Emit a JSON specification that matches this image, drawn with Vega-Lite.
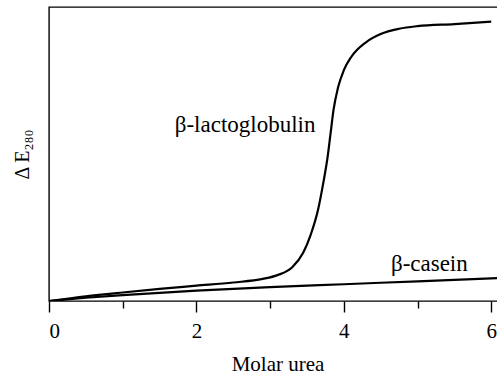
{
  "$schema": "https://vega.github.io/schema/vega-lite/v6.json",
  "autosize": "none",
  "padding": {"left": 49, "top": 7, "right": 0, "bottom": 76},
  "width": 457,
  "height": 294,
  "config": {
    "view": {"stroke": "black", "strokeWidth": 1.4},
    "font": "Liberation Serif",
    "text": {"font": "Liberation Serif"}
  },
  "datasets": {
    "curves": [
      {"protein": "lacto", "urea": 0, "dE": 0},
      {"protein": "lacto", "urea": 0.5, "dE": 0.016},
      {"protein": "lacto", "urea": 1, "dE": 0.029},
      {"protein": "lacto", "urea": 1.5, "dE": 0.041},
      {"protein": "lacto", "urea": 2, "dE": 0.052},
      {"protein": "lacto", "urea": 2.5, "dE": 0.063},
      {"protein": "lacto", "urea": 2.9, "dE": 0.075},
      {"protein": "lacto", "urea": 3.1, "dE": 0.088},
      {"protein": "lacto", "urea": 3.3, "dE": 0.115},
      {"protein": "lacto", "urea": 3.45, "dE": 0.165},
      {"protein": "lacto", "urea": 3.55, "dE": 0.225},
      {"protein": "lacto", "urea": 3.65, "dE": 0.31},
      {"protein": "lacto", "urea": 3.72, "dE": 0.40},
      {"protein": "lacto", "urea": 3.78, "dE": 0.49},
      {"protein": "lacto", "urea": 3.82, "dE": 0.57},
      {"protein": "lacto", "urea": 3.86, "dE": 0.65},
      {"protein": "lacto", "urea": 3.92, "dE": 0.725},
      {"protein": "lacto", "urea": 4.0, "dE": 0.785},
      {"protein": "lacto", "urea": 4.1, "dE": 0.83},
      {"protein": "lacto", "urea": 4.3, "dE": 0.88},
      {"protein": "lacto", "urea": 4.5, "dE": 0.908},
      {"protein": "lacto", "urea": 4.75, "dE": 0.926},
      {"protein": "lacto", "urea": 5.0, "dE": 0.935},
      {"protein": "lacto", "urea": 5.5, "dE": 0.942},
      {"protein": "lacto", "urea": 6.0, "dE": 0.95},
      {"protein": "casein", "urea": 0, "dE": 0},
      {"protein": "casein", "urea": 0.5, "dE": 0.011},
      {"protein": "casein", "urea": 1, "dE": 0.02},
      {"protein": "casein", "urea": 2, "dE": 0.035},
      {"protein": "casein", "urea": 3, "dE": 0.047},
      {"protein": "casein", "urea": 4, "dE": 0.057},
      {"protein": "casein", "urea": 5, "dE": 0.067},
      {"protein": "casein", "urea": 6, "dE": 0.077},
      {"protein": "casein", "urea": 6.2, "dE": 0.079}
    ],
    "labels": [
      {"name": "β-lactoglobulin", "urea": 2.66, "dE": 0.6},
      {"name": "β-casein", "urea": 5.16, "dE": 0.125}
    ]
  },
  "layer": [
    {
      "data": {"name": "curves"},
      "mark": {"type": "line", "interpolate": "monotone", "color": "black", "strokeWidth": 2.2, "clip": true},
      "encoding": {
        "x": {
          "field": "urea", "type": "quantitative",
          "scale": {"domain": [0, 6.2], "nice": false, "zero": false},
          "axis": {
            "title": "Molar urea",
            "values": [0, 1, 2, 3, 4, 5, 6],
            "format": "d",
            "labelExpr": "datum.value % 2 === 0 ? datum.label : ''",
            "grid": false,
            "domain": false,
            "tickColor": "black",
            "tickWidth": 1.4,
            "tickSize": {"condition": {"test": "datum.value % 2 === 1", "value": 7}, "value": 11},
            "labelFont": "Liberation Serif",
            "labelFontSize": 21,
            "labelColor": "black",
            "labelPadding": 8,
            "titleFont": "Liberation Serif",
            "titleFontSize": 21,
            "titleFontWeight": "normal",
            "titleColor": "black",
            "titlePadding": 12
          }
        },
        "y": {
          "field": "dE", "type": "quantitative",
          "scale": {"domain": [0, 1], "nice": false},
          "axis": {
            "title": "Δ E₂₈₀",
            "ticks": false,
            "labels": false,
            "grid": false,
            "domain": false,
            "titleFont": "Liberation Serif",
            "titleFontSize": 20,
            "titleFontWeight": "normal",
            "titleColor": "black",
            "titlePadding": 17
          }
        },
        "detail": {"field": "protein"}
      }
    },
    {
      "data": {"name": "labels"},
      "mark": {"type": "text", "font": "Liberation Serif", "fontSize": 23, "color": "black", "align": "center", "baseline": "middle"},
      "encoding": {
        "x": {"field": "urea", "type": "quantitative"},
        "y": {"field": "dE", "type": "quantitative"},
        "text": {"field": "name"}
      }
    }
  ]
}
